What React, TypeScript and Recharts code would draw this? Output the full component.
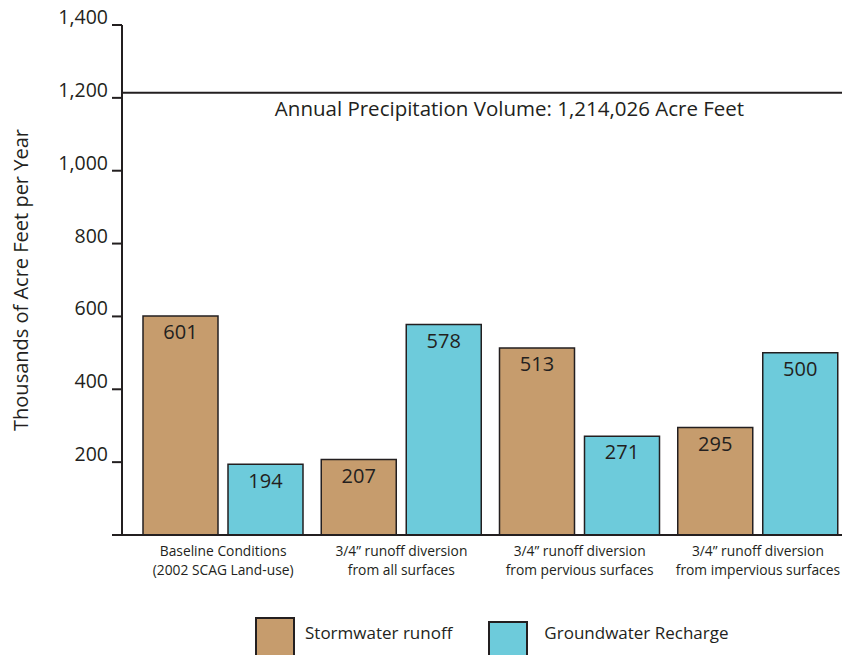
import React from 'react';
import { BarChart, Bar, XAxis, YAxis, ReferenceLine, LabelList, Legend } from 'recharts';

const categories = [
  'Baseline Conditions\n(2002 SCAG Land-use)',
  '3/4\u201D runoff diversion\nfrom all surfaces',
  '3/4\u201D runoff diversion\nfrom pervious surfaces',
  '3/4\u201D runoff diversion\nfrom impervious surfaces',
];
const seriesNames = ['Stormwater runoff', 'Groundwater Recharge'];
const stormwaterRunoff = [601, 207, 513, 295];
const groundwaterRecharge = [194, 578, 271, 500];
const yTicks = [0, 200, 400, 600, 800, 1000, 1200, 1400];
const annualPrecipitation = 1214.026;
const annualLabel = 'Annual Precipitation Volume: 1,214,026 Acre Feet';

const FONT = '"Open Sans", sans-serif';
const INK = '#231f20';
const BROWN = '#c69c6d';
const CYAN = '#6dcbdb';

const data = categories.map((name, i) => ({
  name,
  runoff: stormwaterRunoff[i],
  recharge: groundwaterRecharge[i],
}));

const CategoryTick = (props: any) => {
  const { x, y, payload } = props;
  const lines = String(payload.value).split('\n');
  return (
    <text x={x} y={y} textAnchor="middle" fontFamily={FONT} fontSize={13.8} fill={INK}>
      {lines.map((l, i) => (
        <tspan key={i} x={x} dy={i === 0 ? 13 : 19}>{l}</tspan>
      ))}
    </text>
  );
};

const ValueTick = (props: any) => {
  const { x, y, payload } = props;
  return (
    <text x={x} y={y - 1} textAnchor="end" fontFamily={FONT} fontSize={19.5} fill={INK}>
      {payload.value === 0 ? '' : Number(payload.value).toLocaleString('en-US')}
    </text>
  );
};

const AxisTitle = (props: any) => {
  const vb = props.viewBox || {};
  const cy = (vb.y || 0) + (vb.height || 0) / 2;
  return (
    <text x={28} y={cy} transform={`rotate(-90 28 ${cy})`} textAnchor="middle" fontFamily={FONT} fontSize={20} fill={INK}>
      Thousands of Acre Feet per Year
    </text>
  );
};

const AnnotationLabel = (props: any) => {
  const vb = props.viewBox || {};
  return (
    <text x={vb.x + vb.width / 2 + 25} y={vb.y + 23} textAnchor="middle" fontFamily={FONT} fontSize={20.5} fill={INK}>
      {annualLabel}
    </text>
  );
};

const LegendBox = (props: any) => {
  const payload = [...(props.payload || [])].sort(
    (a: any, b: any) => seriesNames.indexOf(a.value) - seriesNames.indexOf(b.value)
  );
  return (
    <div style={{ display: 'flex', alignItems: 'flex-start', paddingLeft: 255, fontFamily: FONT, fontSize: 17, color: INK }}>
      {payload.map((p: any, i: number) => (
        <div key={i} style={{ display: 'flex', alignItems: 'flex-start', marginRight: 36, marginTop: i === 0 ? 0 : 4 }}>
          <div style={{ width: 36, height: 40, background: p.color, border: `2px solid ${INK}`, boxSizing: 'content-box' }} />
          <span style={{ marginLeft: i === 0 ? 10 : 16, marginTop: i === 0 ? 4 : 0 }}>{p.value}</span>
        </div>
      ))}
    </div>
  );
};

export default function App() {
  return (
    <div style={{ position: 'absolute', left: 0, top: 0, width: 842, height: 655, overflow: 'hidden', background: '#fff' }}>
      <BarChart
        width={847}
        height={655}
        data={data}
        margin={{ top: 25, right: 0, bottom: 80, left: 0 }}
        barSize={75}
        barGap={10}
      >
        <XAxis
          dataKey="name"
          height={40}
          padding={{ left: 12, right: 0 }}
          axisLine={{ stroke: INK, strokeWidth: 2 }}
          tickLine={false}
          tick={<CategoryTick />}
          interval={0}
        />
        <YAxis
          width={122}
          domain={[0, 1400]}
          ticks={yTicks}
          interval={0}
          axisLine={{ stroke: INK, strokeWidth: 2 }}
          tickLine={{ stroke: INK, strokeWidth: 2 }}
          tickSize={10}
          tickMargin={4}
          tick={<ValueTick />}
          label={<AxisTitle />}
        />
        <ReferenceLine y={annualPrecipitation} stroke={INK} strokeWidth={2} label={<AnnotationLabel />} />
        <Legend
          verticalAlign="middle"
          align="center"
          layout="horizontal"
          content={<LegendBox />}
          wrapperStyle={{ top: 617, left: 0, width: 842 }}
        />
        <Bar dataKey="runoff" name={seriesNames[0]} fill={BROWN} stroke={INK} strokeWidth={1.5} isAnimationActive={false}>
          <LabelList dataKey="runoff" position="insideTop" offset={9} fontFamily={FONT} fontSize={20} fill={INK} />
        </Bar>
        <Bar dataKey="recharge" name={seriesNames[1]} fill={CYAN} stroke={INK} strokeWidth={1.5} isAnimationActive={false}>
          <LabelList dataKey="recharge" position="insideTop" offset={9} fontFamily={FONT} fontSize={20} fill={INK} />
        </Bar>
      </BarChart>
    </div>
  );
}
